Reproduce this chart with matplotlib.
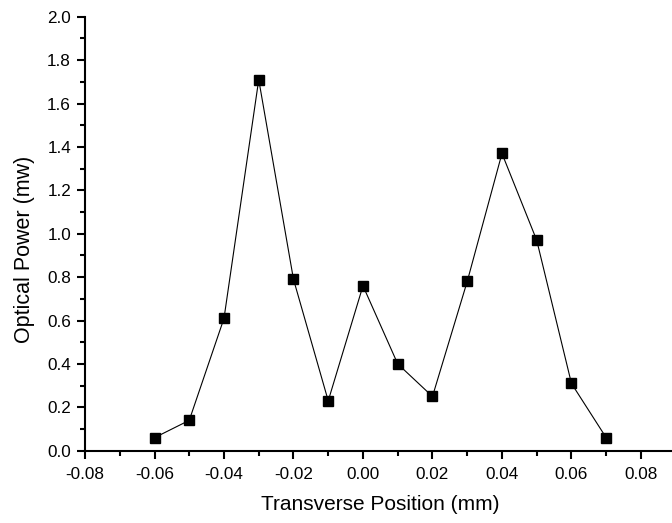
import matplotlib
matplotlib.use("Agg")
import matplotlib.pyplot as plt
from matplotlib.ticker import MultipleLocator, FormatStrFormatter

plt.rcParams['font.family'] = ['Liberation Sans', 'DejaVu Sans']

positions = [-0.06, -0.05, -0.04, -0.03, -0.02, -0.01, 0.00, 0.01, 0.02, 0.03, 0.04, 0.05, 0.06, 0.07]
power = [0.06, 0.14, 0.61, 1.71, 0.79, 0.23, 0.76, 0.40, 0.25, 0.78, 1.37, 0.97, 0.31, 0.06]

fig = plt.figure(figsize=(6.72, 5.23), dpi=100)
ax = fig.add_axes([0.1265, 0.1382, 0.879, 0.8298])

ax.plot(positions, power, color='black', linewidth=0.8, marker='s', markersize=6.7,
        markerfacecolor='black', markeredgecolor='black', clip_on=False)

ax.set_xlim(-0.08, 0.09)
ax.set_ylim(0.0, 2.0)
ax.xaxis.set_major_locator(MultipleLocator(0.02))
ax.xaxis.set_minor_locator(MultipleLocator(0.01))
ax.yaxis.set_major_locator(MultipleLocator(0.2))
ax.yaxis.set_minor_locator(MultipleLocator(0.1))
ax.xaxis.set_major_formatter(FormatStrFormatter('%.2f'))
ax.yaxis.set_major_formatter(FormatStrFormatter('%.1f'))

for s in ['top', 'right']:
    ax.spines[s].set_visible(False)
for s in ['left', 'bottom']:
    ax.spines[s].set_linewidth(1.5)

ax.tick_params(which='major', direction='out', length=6, width=1.5, labelsize=12.3)
ax.tick_params(axis='x', which='major', pad=6)
ax.tick_params(axis='y', which='major', pad=4)
ax.tick_params(which='minor', direction='out', length=3.6, width=1.5)

ax.set_xlabel('Transverse Position (mm)', fontsize=15, labelpad=9)
ax.set_ylabel('Optical Power (mw)', fontsize=15.5, labelpad=9)
ax.yaxis.label.set_y(0.465)

fig.savefig('out.png', dpi=100)
